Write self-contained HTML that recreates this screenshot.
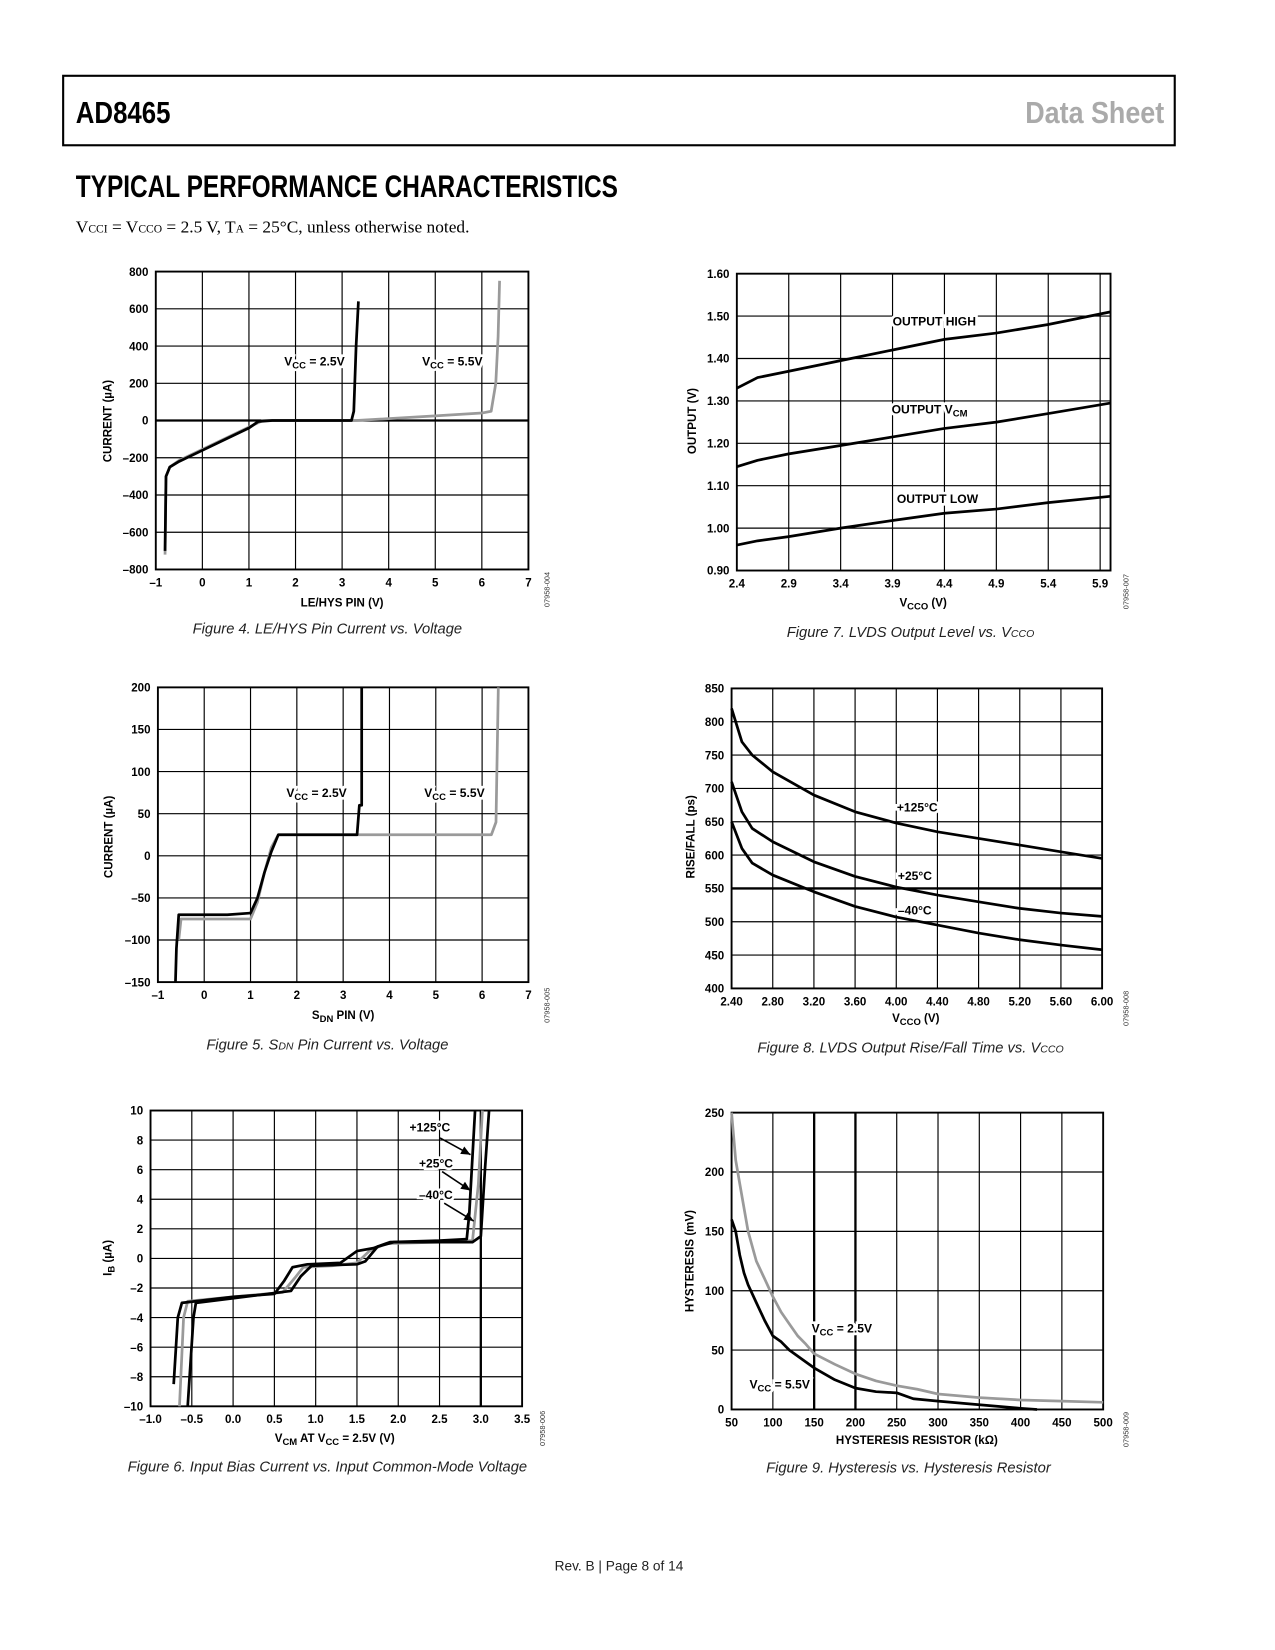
<!DOCTYPE html>
<html><head><meta charset="utf-8"><style>
html,body{margin:0;padding:0;background:#fff;}
svg{display:block;}
.t{font-family:"Liberation Sans",Arial,sans-serif;font-weight:bold;font-size:11px;fill:#000;}
.cap{font-family:"Liberation Sans",sans-serif;font-style:italic;font-size:14px;fill:#222;}
.lab{font-family:"Liberation Sans",sans-serif;font-weight:bold;font-size:11.5px;fill:#000;paint-order:stroke;stroke:#fff;stroke-width:5px;}
.id{font-family:"Liberation Sans",sans-serif;font-size:7px;fill:#333;}
</style></head><body>
<svg id="page" width="1275" height="1650" viewBox="0 0 1211.25 1567.5" xmlns="http://www.w3.org/2000/svg">
<rect x="60" y="72" width="1056" height="66" fill="none" stroke="#000" stroke-width="2"/>
<text x="72" y="117" textLength="90" lengthAdjust="spacingAndGlyphs" style="font-family:'Liberation Sans Narrow','Liberation Sans',sans-serif;font-weight:bold;font-size:29px">AD8465</text>
<text x="1106" y="117" text-anchor="end" textLength="132" lengthAdjust="spacingAndGlyphs" style="font-family:'Liberation Sans Narrow','Liberation Sans',sans-serif;font-weight:bold;font-size:29px;fill:#aaa">Data Sheet</text>
<text x="72" y="187" textLength="515" lengthAdjust="spacingAndGlyphs" style="font-family:'Liberation Sans Narrow','Liberation Sans',sans-serif;font-weight:bold;font-size:30px">TYPICAL PERFORMANCE CHARACTERISTICS</text>
<text x="72" y="221" style="font-family:'Liberation Serif',serif;font-size:16.5px">V<tspan font-size="11">CCI</tspan> = V<tspan font-size="11">CCO</tspan> = 2.5 V, T<tspan font-size="11">A</tspan> = 25°C, unless otherwise noted.</text>
<text x="588" y="1492" text-anchor="middle" style="font-family:'Liberation Sans',sans-serif;font-size:13px;fill:#222">Rev. B | Page 8 of 14</text>
</svg>
<script>
// ---- Figure 4 data ----
const f4XTicks=[-1,0,1,2,3,4,5,6,7];
const f4YTicks=[-800,-600,-400,-200,0,200,400,600,800];
const f4YLabels=["–800","–600","–400","–200","0","200","400","600","800"];
const f4Vcc25X=[-0.8,-0.78,-0.7,-0.5,0,0.5,1,1.2,1.5,3.2,3.25,3.3,3.35];
const f4Vcc25Y=[-700,-300,-250,-220,-160,-100,-40,-5,0,0,50,400,640];
const f4Vcc55X=[-0.8,-0.78,-0.7,-0.5,0,0.5,1,1.3,3.3,4,5,6,6.2,6.3,6.35,6.38];
const f4Vcc55Y=[-720,-300,-250,-215,-155,-95,-35,0,0,10,25,40,50,200,450,750];
// ---- Figure 5 data ----
const f5XTicks=[-1,0,1,2,3,4,5,6,7];
const f5YTicks=[-150,-100,-50,0,50,100,150,200];
const f5YLabels=["–150","–100","–50","0","50","100","150","200"];
const f5Vcc25X=[-0.62,-0.6,-0.55,0.5,1,1.15,1.3,1.45,1.6,3.3,3.35,3.4,3.4];
const f5Vcc25Y=[-150,-110,-70,-70,-68,-50,-20,5,25,25,60,60,200];
const f5Vcc55X=[-0.55,-0.5,1,1.15,1.3,1.45,1.6,6.2,6.3,6.35];
const f5Vcc55Y=[-100,-75,-75,-55,-20,10,25,25,40,200];
// ---- Figure 6 data ----
const f6XTicks=[-1,-0.5,0,0.5,1,1.5,2,2.5,3,3.5];
const f6XLabels=["–1.0","–0.5","0.0","0.5","1.0","1.5","2.0","2.5","3.0","3.5"];
const f6YTicks=[-10,-8,-6,-4,-2,0,2,4,6,8,10];
const f6YLabels=["–10","–8","–6","–4","–2","0","2","4","6","8","10"];
const f6T125X=[-0.72,-0.67,-0.62,0,0.5,0.62,0.72,0.9,1.3,1.5,1.7,1.9,2.5,2.83,2.86,2.93];
const f6T125Y=[-8.5,-4,-3,-2.6,-2.4,-1.5,-0.6,-0.4,-0.3,0.5,0.7,1.1,1.2,1.3,3,10];
const f6T25X=[-0.65,-0.6,-0.55,0,0.6,0.75,0.85,1.2,1.5,1.65,1.85,2.5,2.9,2.97,3.02];
const f6T25Y=[-10,-4,-2.9,-2.6,-2.3,-1.3,-0.6,-0.5,-0.3,0.5,1.0,1.1,1.2,5,10];
const f6Tm40X=[-0.55,-0.48,-0.45,0,0.7,0.82,0.95,1.5,1.6,1.75,1.95,2.9,3.0,3.05,3.1];
const f6Tm40Y=[-10,-4,-3,-2.7,-2.2,-1.2,-0.5,-0.4,-0.2,0.8,1.1,1.1,1.5,6,10];
// ---- Figure 7 data ----
const f7XTicks=[2.4,2.9,3.4,3.9,4.4,4.9,5.4,5.9];
const f7YTicks=[0.9,1.0,1.1,1.2,1.3,1.4,1.5,1.6];
const f7YLabels=["0.90","1.00","1.10","1.20","1.30","1.40","1.50","1.60"];
const f7X=[2.4,2.6,2.9,3.4,3.9,4.4,4.9,5.4,6.0];
const f7High=[1.33,1.355,1.37,1.395,1.42,1.445,1.46,1.48,1.51];
const f7Vcm=[1.145,1.16,1.175,1.195,1.215,1.235,1.25,1.27,1.295];
const f7Low=[0.96,0.97,0.98,1.0,1.018,1.035,1.045,1.06,1.075];
// ---- Figure 8 data ----
const f8XTicks=[2.4,2.8,3.2,3.6,4.0,4.4,4.8,5.2,5.6,6.0];
const f8XLabels=["2.40","2.80","3.20","3.60","4.00","4.40","4.80","5.20","5.60","6.00"];
const f8YTicks=[400,450,500,550,600,650,700,750,800,850];
const f8X=[2.4,2.5,2.6,2.8,3.2,3.6,4.0,4.4,4.8,5.2,5.6,6.0];
const f8T125=[820,770,750,725,690,665,648,635,625,615,605,595];
const f8T25=[710,665,640,620,590,568,552,540,530,520,513,508];
const f8Tm40=[650,610,588,570,545,523,507,495,483,473,465,458];
// ---- Figure 9 data ----
const f9XTicks=[50,100,150,200,250,300,350,400,450,500];
const f9YTicks=[0,50,100,150,200,250];
const f9Vcc25X=[50,55,60,70,80,90,100,110,120,130,140,150,175,200,225,250,275,300,350,400,450,500];
const f9Vcc25Y=[250,210,190,150,125,110,95,82,72,62,55,47,38,30,24,20,17,13,10,8,7,6];
const f9Vcc55X=[50,55,60,65,70,80,90,100,110,120,140,150,175,200,225,250,270,300,350,400,420];
const f9Vcc55Y=[160,150,130,115,105,90,75,62,57,50,40,35,25,18,15,14,9,7,4,1,0];

const NS="http://www.w3.org/2000/svg";
const svg=document.getElementById('page');
function mk(tag,attrs,parent){const e=document.createElementNS(NS,tag);for(const k in attrs)e.setAttribute(k,attrs[k]);(parent||svg).appendChild(e);return e;}

function makeChart(name,box,xd,yd,xTicks,xLabels,yTicks,yLabels,boldX,boldY){
  const g=mk('g',{});
  
  
  const sx=v=>box.L+(v-xd[0])/(xd[1]-xd[0])*(box.R-box.L);
  const sy=v=>box.B-(v-yd[0])/(yd[1]-yd[0])*(box.B-box.T);
  xTicks.forEach((v,i)=>{
    const w=boldX.includes(v)?2.2:1.1;
    const ln=mk('line',{x1:sx(v),x2:sx(v),y1:box.T,y2:box.B,stroke:'#000','stroke-width':w},g);
    
    
    const t=mk('text',{x:sx(v),y:box.B+16,'text-anchor':'middle',class:'t'},g);
    t.textContent=xLabels?xLabels[i]:String(v).replace('-','–');
    
    
  });
  yTicks.forEach((v,i)=>{
    const w=boldY.includes(v)?2.2:1.1;
    const ln=mk('line',{x1:box.L,x2:box.R,y1:sy(v),y2:sy(v),stroke:'#000','stroke-width':w},g);
    
    
    const t=mk('text',{x:box.L-7,y:sy(v)+4,'text-anchor':'end',class:'t'},g);
    t.textContent=yLabels?yLabels[i]:String(v);
    
    
  });
  const fr=mk('rect',{x:box.L,y:box.T,width:box.R-box.L,height:box.B-box.T,fill:'none',stroke:'#000','stroke-width':1.8},g);
  
  
  return {g,sx,sy};
}
function series(c,xs,ys,color,sname){
  const pts=xs.map((x,i)=>c.sx(x).toFixed(1)+','+c.sy(ys[i]).toFixed(1)).join(' ');
  const p=mk('polyline',{points:pts,fill:'none',stroke:color,'stroke-width':2.6,'stroke-linejoin':'round'},c.g);
  
  
}
function txt(x,y,html,cls,nm,extra){
  const t=mk('text',Object.assign({x:x,y:y,class:cls},extra||{}));
  t.innerHTML=html;
  
  
  return t;
}
const SUB=(s)=>'<tspan baseline-shift="-3" font-size="9">'+s+'</tspan>';
function ytitle(x,cy,html,nm){txt(x,cy,html,'t',nm,{'text-anchor':'middle',transform:'rotate(-90 '+x+' '+cy+')'});}
function idlab(x,cy,s){txt(x,cy,s,'id','figure-id',{'text-anchor':'middle',transform:'rotate(-90 '+x+' '+cy+')'});}

// Figure 4
const c4=makeChart('figure-4-chart',{L:148,R:502,T:258,B:541},[-1,7],[-800,800],f4XTicks,null,f4YTicks,f4YLabels,[],[0]);
series(c4,f4Vcc55X,f4Vcc55Y,'#9a9a9a','series-vcc-5v5');
series(c4,f4Vcc25X,f4Vcc25Y,'#000','series-vcc-2v5');
txt(270,347,'V'+SUB('CC')+' = 2.5V','lab','label-vcc-2v5');
txt(401,347,'V'+SUB('CC')+' = 5.5V','lab','label-vcc-5v5');
txt(325,576,'LE/HYS PIN (V)','t','x-axis-title',{'text-anchor':'middle'});
ytitle(106,400,'CURRENT (µA)','y-axis-title');
idlab(522,560,'07958-004');
txt(311,602,'Figure 4. LE/HYS Pin Current vs. Voltage','cap','figure-4-caption',{'text-anchor':'middle'});

// Figure 7
const c7=makeChart('figure-7-chart',{L:700,R:1055,T:260,B:542},[2.4,6.0],[0.9,1.6],f7XTicks,null,f7YTicks,f7YLabels,[],[]);
series(c7,f7X,f7High,'#000','series-output-high');
series(c7,f7X,f7Vcm,'#000','series-output-vcm');
series(c7,f7X,f7Low,'#000','series-output-low');
txt(848,309,'OUTPUT HIGH','lab','label-output-high');
txt(847,393,'OUTPUT V'+SUB('CM'),'lab','label-output-vcm');
txt(852,478,'OUTPUT LOW','lab','label-output-low');
txt(877,576,'V'+SUB('CCO')+' (V)','t','x-axis-title',{'text-anchor':'middle'});
ytitle(661,400,'OUTPUT (V)','y-axis-title');
idlab(1072,562,'07958-007');
txt(865,605,'Figure 7. LVDS Output Level vs. V<tspan font-size="10">CCO</tspan>','cap','figure-7-caption',{'text-anchor':'middle'});

// Figure 5
const c5=makeChart('figure-5-chart',{L:150,R:502,T:653,B:933},[-1,7],[-150,200],f5XTicks,null,f5YTicks,f5YLabels,[],[]);
series(c5,f5Vcc55X,f5Vcc55Y,'#9a9a9a','series-vcc-5v5');
series(c5,f5Vcc25X,f5Vcc25Y,'#000','series-vcc-2v5');
txt(272,757,'V'+SUB('CC')+' = 2.5V','lab','label-vcc-2v5');
txt(403,757,'V'+SUB('CC')+' = 5.5V','lab','label-vcc-5v5');
txt(326,968,'S'+SUB('DN')+' PIN (V)','t','x-axis-title',{'text-anchor':'middle'});
ytitle(107,795,'CURRENT (µA)','y-axis-title');
idlab(522,955,'07958-005');
txt(311,997,'Figure 5. S<tspan font-size="10">DN</tspan> Pin Current vs. Voltage','cap','figure-5-caption',{'text-anchor':'middle'});

// Figure 8
const c8=makeChart('figure-8-chart',{L:695,R:1047,T:654,B:939},[2.4,6.0],[400,850],f8XTicks,f8XLabels,f8YTicks,null,[],[550]);
series(c8,f8X,f8T125,'#000','series-125c');
series(c8,f8X,f8T25,'#000','series-25c');
series(c8,f8X,f8Tm40,'#000','series-minus-40c');
txt(852,771,'+125°C','lab','label-125c');
txt(853,836,'+25°C','lab','label-25c');
txt(853,869,'–40°C','lab','label-minus-40c');
txt(870,971,'V'+SUB('CCO')+' (V)','t','x-axis-title',{'text-anchor':'middle'});
ytitle(660,795,'RISE/FALL (ps)','y-axis-title');
idlab(1072,958,'07958-008');
txt(865,1000,'Figure 8. LVDS Output Rise/Fall Time vs. V<tspan font-size="10">CCO</tspan>','cap','figure-8-caption',{'text-anchor':'middle'});

// Figure 6
const c6=makeChart('figure-6-chart',{L:143,R:496,T:1055,B:1336},[-1,3.5],[-10,10],f6XTicks,f6XLabels,f6YTicks,f6YLabels,[3],[]);
series(c6,f6T25X,f6T25Y,'#9a9a9a','series-25c');
series(c6,f6T125X,f6T125Y,'#000','series-125c');
series(c6,f6Tm40X,f6Tm40Y,'#000','series-minus-40c');
txt(389,1075,'+125°C','lab','label-125c');
txt(398,1109,'+25°C','lab','label-25c');
txt(398,1139,'–40°C','lab','label-minus-40c');
[[418,1081,447,1097],[420,1113,447,1131],[422,1143,450,1160]].forEach(a=>{
  const l=mk('line',{x1:a[0],y1:a[1],x2:a[2],y2:a[3],stroke:'#000','stroke-width':1.5});
  
  
  const dx=a[2]-a[0],dy=a[3]-a[1],len=Math.hypot(dx,dy),ux=dx/len,uy=dy/len;
  const p=mk('polygon',{points:`${a[2]},${a[3]} ${a[2]-9*ux-4*uy},${a[3]-9*uy+4*ux} ${a[2]-9*ux+4*uy},${a[3]-9*uy-4*ux}`,fill:'#000'});
  
  
});
txt(318,1370,'V'+SUB('CM')+' AT V'+SUB('CC')+' = 2.5V (V)','t','x-axis-title',{'text-anchor':'middle'});
ytitle(106,1195,'I'+SUB('B')+' (µA)','y-axis-title');
idlab(518,1357,'07958-006');
txt(311,1398,'Figure 6. Input Bias Current vs. Input Common-Mode Voltage','cap','figure-6-caption',{'text-anchor':'middle'});

// Figure 9
const c9=makeChart('figure-9-chart',{L:695,R:1048,T:1057,B:1339},[50,500],[0,250],f9XTicks,null,f9YTicks,null,[150,200],[]);
series(c9,f9Vcc25X,f9Vcc25Y,'#9a9a9a','series-vcc-2v5');
series(c9,f9Vcc55X,f9Vcc55Y,'#000','series-vcc-5v5');
txt(771,1266,'V'+SUB('CC')+' = 2.5V','lab','label-vcc-2v5');
txt(712,1319,'V'+SUB('CC')+' = 5.5V','lab','label-vcc-5v5');
txt(871,1372,'HYSTERESIS RESISTOR (kΩ)','t','x-axis-title',{'text-anchor':'middle'});
ytitle(659,1198,'HYSTERESIS (mV)','y-axis-title');
idlab(1072,1358,'07958-009');
txt(863,1399,'Figure 9. Hysteresis vs. Hysteresis Resistor','cap','figure-9-caption',{'text-anchor':'middle'});
</script>
</body></html>
